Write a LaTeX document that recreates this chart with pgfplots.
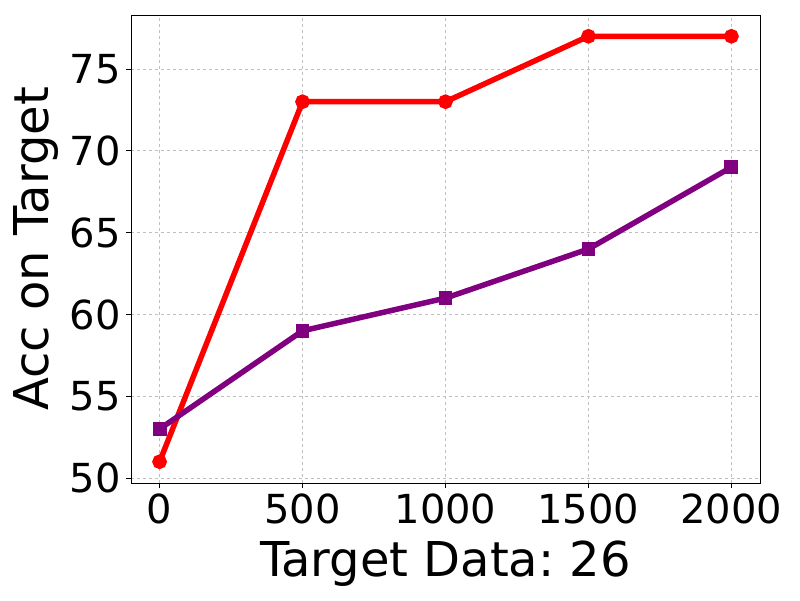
\documentclass[border=0pt]{standalone}
\usepackage{fontspec}
\setmainfont{DejaVu Sans}
\usepackage{pgfplots}
\pgfplotsset{compat=1.18}
\definecolor{mred}{RGB}{255,0,0}
\definecolor{mpurple}{RGB}{128,0,128}
\begin{document}
\frenchspacing
\begin{tikzpicture}
\begin{axis}[
  name=ax,
  scale only axis,
  width=629pt, height=468pt,
  xmin=-100, xmax=2100,
  ymin=49.7, ymax=78.3,
  xtick={0,500,1000,1500,2000},
  ytick={50,55,60,65,70,75},
  scaled x ticks=false,
  /pgf/number format/assume math mode=true,
  /pgf/number format/1000 sep={},
  tick label style={font=\fontsize{40}{44}\selectfont},
  label style={font=\fontsize{48}{54}\selectfont},
  xlabel={Target Data: 26},
  ylabel={Acc on Target},
  tick align=outside,
  tick pos=left,
  major tick length=5pt,
  tick style={black, line width=0.8pt},
  axis line style={black, line width=0.8pt},
  grid=major,
  major grid style={gray!50, dashed, line width=0.7pt},
  xticklabel style={yshift=-2pt},
  yticklabel style={xshift=-2pt},
  xlabel style={yshift=-10pt},
  ylabel style={yshift=4pt},
]
\addplot[mred, line width=5.5pt, mark=*, mark size=4.5pt, mark options={solid}] coordinates {
(0,51) (500,73) (1000,73) (1500,77) (2000,77)};
\addplot[mpurple, line width=5.5pt, mark=square*, mark size=4.2pt, mark options={solid}] coordinates {
(0,53) (500,59) (1000,61) (1500,64) (2000,69)};
\end{axis}
\path[use as bounding box] ([xshift=-131pt,yshift=-117pt]ax.south west) rectangle ([xshift=40pt,yshift=15pt]ax.north east);
\end{tikzpicture}
\end{document}
